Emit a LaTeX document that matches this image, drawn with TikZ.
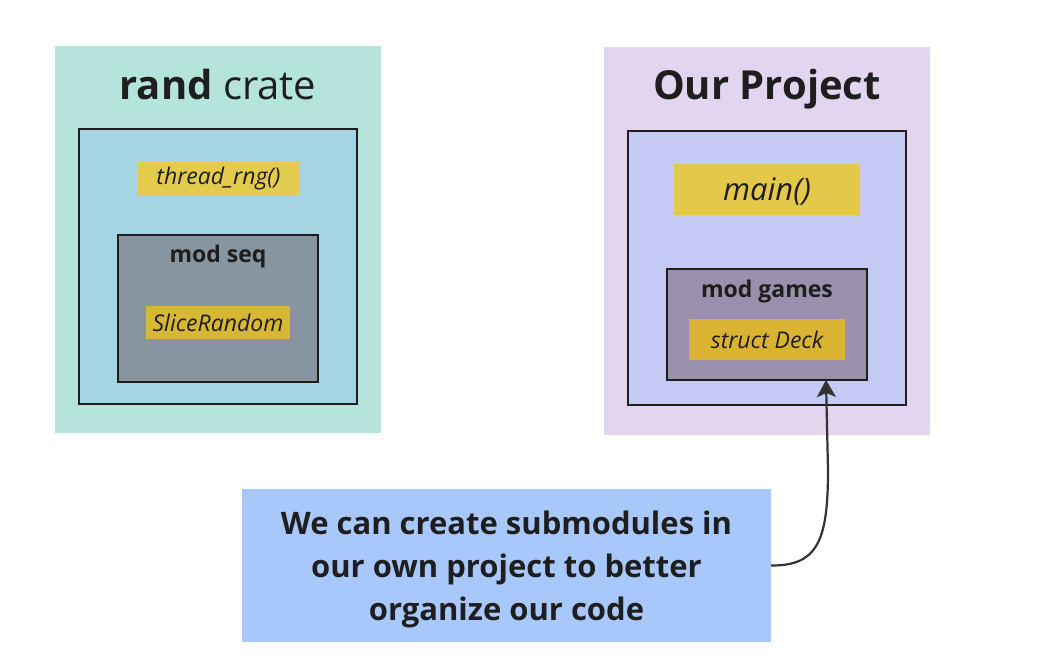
\documentclass[tikz,border=0pt]{standalone}
\usepackage{fontspec}
\setmainfont{Open Sans}
\usetikzlibrary{arrows.meta}

\definecolor{randbg}{HTML}{B5E4DC}
\definecolor{randin}{HTML}{A5D5E3}
\definecolor{seqbg}{HTML}{8795A1}
\definecolor{projbg}{HTML}{E3D5F0}
\definecolor{projin}{HTML}{C4CAF4}
\definecolor{gamesbg}{HTML}{9B8FAE}
\definecolor{fnyellow}{HTML}{E3CC4D}
\definecolor{itemyellow}{HTML}{D8B636}
\definecolor{notebg}{HTML}{A8C8FC}
\definecolor{ink}{HTML}{1E1E1E}
\definecolor{linkgray}{HTML}{333333}

\begin{document}
\begin{tikzpicture}[x=1pt,y=-1pt,
    box/.style={inner sep=0pt, outer sep=0pt},
    modbox/.style={box, draw=ink, line width=2.2pt},
    item/.style={box, text=ink, font=\itshape\fontsize{23}{27}\selectfont},
    link/.style={draw=linkgray, line width=2.2pt, -{Stealth[length=17pt,width=19pt,inset=4pt]}}]

      \useasboundingbox (0,0) rectangle (1053,668);

      % crate and project
      \begin{scope}[every node/.style={box}]
        \node[fill=randbg, minimum width=326, minimum height=387] (randcrate) at (218,239.5) {};
        \node[fill=projbg, minimum width=326, minimum height=388] (project)   at (767,241)   {};
      \end{scope}

      \begin{scope}[every node/.style={modbox}]
        \node[fill=randin,  minimum width=278, minimum height=275] (randroot) at (218,266.5) {};
        \node[fill=projin,  minimum width=278, minimum height=274] (projroot) at (767,268)   {};
        \node[fill=seqbg,   minimum width=200, minimum height=147] (modseq)   at (218,308.5) {};
        \node[fill=gamesbg, minimum width=200, minimum height=111] (modgames) at (767,324.5) {};
      \end{scope}

      \node[text=ink, font=\fontsize{40}{44}\selectfont] (randtitle) at (218,85) {\textbf{rand} crate};
      \node[text=ink, font=\bfseries\fontsize{40}{44}\selectfont] (projtitle) at (767,89) {Our Project};

      \begin{scope}[every node/.style={text=ink, font=\bfseries\fontsize{23}{27}\selectfont}]
        \node (seqtitle)   at (218,257) {mod seq};
        \node (gamestitle) at (767,292) {mod games};
      \end{scope}

      % functions and types
      \node[item, fill=fnyellow,   minimum width=161, minimum height=33] (threadrng) at (218.5,178.5) {thread\_rng()};
      \node[item, fill=itemyellow, minimum width=144, minimum height=33] (slicerand) at (218,322.5)   {SliceRandom};
      \node[item, fill=fnyellow!95!orange, minimum width=186, minimum height=51, text depth=0pt,
            font=\itshape\fontsize{31}{35}\selectfont] (mainfn) at (767,189.5) {main()};
      \node[item, fill=itemyellow!95!orange, minimum width=156, minimum height=41] (deck) at (767,339.5) {struct Deck};

      % note
      \node[box, fill=notebg, minimum width=529, minimum height=153, align=center, text=ink, text depth=0pt,
            font=\bfseries\fontsize{31}{43}\selectfont] (note) at (506.5,565.5)
            {We can create submodules in\\our own project to better\\organize our code};

      \coordinate (tip) at ([xshift=59pt]modgames.south);
      \draw[link] (note.east) .. controls (818,566) and (828,540) .. (828,470) -- (tip);

    \end{tikzpicture}
\end{document}
